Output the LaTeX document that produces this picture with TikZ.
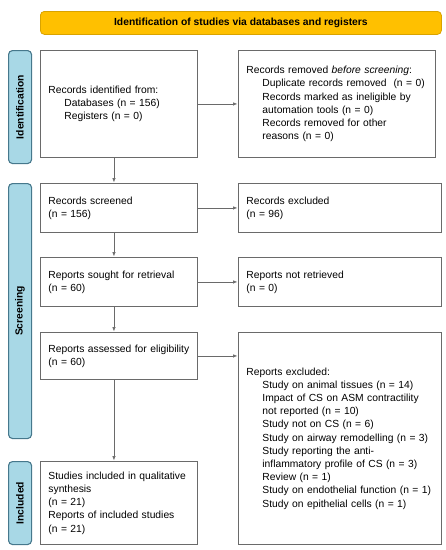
\documentclass[tikz,border=0pt]{standalone}
\usepackage{fontspec}
\setmainfont{Liberation Sans}
\usetikzlibrary{arrows.meta}
\definecolor{boxgray}{HTML}{6A6A6A}
\definecolor{hdrfill}{HTML}{FFC000}
\definecolor{hdrdraw}{HTML}{D9A300}
\definecolor{barfill}{HTML}{A8D8E6}
\definecolor{bardraw}{HTML}{46788C}
\newcommand{\fs}{\fontsize{10.3}{13.2}\selectfont}
\newcommand{\ind}{\hspace*{16pt}}
\tikzset{
  box/.style={draw=boxgray, line width=0.9pt, anchor=north west, inner xsep=8pt, inner ysep=0pt, align=left, font=\fs},
  bar/.style={draw=bardraw, fill=barfill, line width=1.1pt, rounded corners=4pt, anchor=north west, inner sep=0pt},
  barlabel/.style={rotate=90, font=\fs\bfseries},
  arr/.style={draw=boxgray, line width=0.7pt, -{Latex[length=4.5pt,width=3.5pt]}, shorten >=0.5pt}
}
\begin{document}
\begin{tikzpicture}[x=1pt,y=-1pt]
\useasboundingbox (0,0) rectangle (446,550);
% header
\node[draw=hdrdraw, fill=hdrfill, line width=0.8pt, rounded corners=4pt, anchor=north west, minimum width=401pt, minimum height=23pt, inner sep=0pt, font=\fs\bfseries] (hdr) at (40,11) {Identification of studies via databases and registers};
% side bars
\node[bar, minimum width=23pt, minimum height=113pt] (s1) at (8,50) {};
\node[barlabel] (s1t) at (s1.center) {Identification};
\node[bar, minimum width=23pt, minimum height=255pt] (s2) at (8,183) {};
\node[barlabel] (s2t) at (s2.center) {Screening};
\node[bar, minimum width=23pt, minimum height=83pt] (s3) at (8,461) {};
\node[barlabel] (s3t) at (s3.center) {Included};
% left boxes
\node[box, minimum width=157pt, minimum height=107pt, text width=141pt] (b1) at (40,50)
  {Records identified from:\\\ind Databases (n = 156)\\\ind Registers (n = 0)};
\node[box, minimum width=157pt, minimum height=49pt, text width=141pt] (b2) at (40,183)
  {Records screened\\(n = 156)};
\node[box, minimum width=157pt, minimum height=49pt, text width=141pt] (b3) at (40,257)
  {Reports sought for retrieval\\(n = 60)};
\node[box, minimum width=157pt, minimum height=47pt, text width=141pt] (b4) at (40,332)
  {Reports assessed for eligibility\\(n = 60)};
\node[box, minimum width=157pt, minimum height=83pt, text width=141pt] (b5) at (40,461)
  {Studies included in qualitative\\synthesis\\(n = 21)\\Reports of included studies\\(n = 21)};
% right boxes
\node[box, minimum width=197pt, minimum height=107pt, text width=181pt] (r1) at (238,50)
  {Records removed \emph{before screening}:\\\ind Duplicate records removed\ \ (n = 0)\\\ind Records marked as ineligible by\\\ind automation tools (n = 0)\\\ind Records removed for other\\\ind reasons (n = 0)};
\node[box, minimum width=203pt, minimum height=49pt, text width=187pt] (r2) at (238,183)
  {Records excluded\\(n = 96)};
\node[box, minimum width=203pt, minimum height=49pt, text width=187pt] (r3) at (238,257)
  {Reports not retrieved\\(n = 0)};
\node[box, minimum width=203pt, minimum height=212pt, text width=187pt] (r4) at (238,332)
  {Reports excluded:\\\ind Study on animal tissues (n = 14)\\\ind Impact of CS on ASM contractility\\\ind not reported (n = 10)\\\ind Study not on CS (n = 6)\\\ind Study on airway remodelling (n = 3)\\\ind Study reporting the anti-\\\ind inflammatory profile of CS (n = 3)\\\ind Review (n = 1)\\\ind Study on endothelial function (n = 1)\\\ind Study on epithelial cells (n = 1)};
% vertical arrows
\draw[arr] ([xshift=-5pt]b1.south) -- ([xshift=-5pt]b2.north);
\draw[arr] ([xshift=-5pt]b2.south) -- ([xshift=-5pt]b3.north);
\draw[arr] ([xshift=-5pt]b3.south) -- ([xshift=-5pt]b4.north);
\draw[arr] ([xshift=-5pt]b4.south) -- ([xshift=-5pt]b5.north);
% horizontal arrows
\draw[arr] (b1.east) -- (b1.east -| r1.west);
\draw[arr] (b2.east) -- (b2.east -| r2.west);
\draw[arr] (b3.east) -- (b3.east -| r3.west);
\draw[arr] (b4.east) -- (b4.east -| r4.west);
\end{tikzpicture}
\end{document}
